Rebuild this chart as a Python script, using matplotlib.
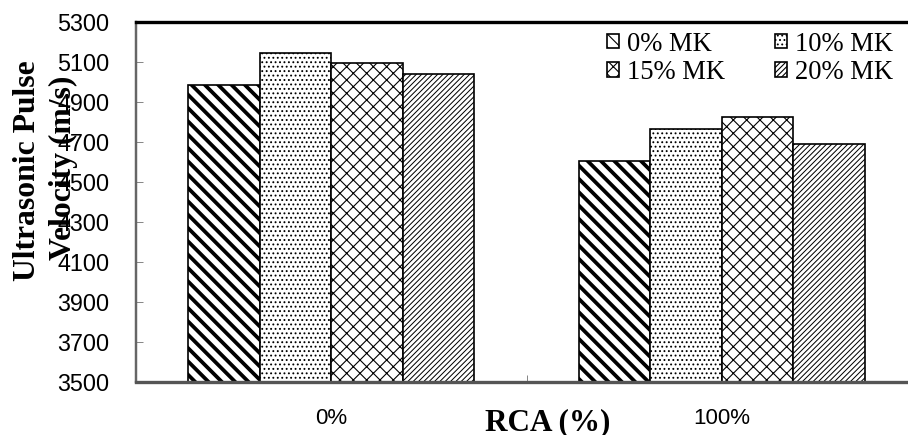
import matplotlib
matplotlib.use('Agg')
import matplotlib.pyplot as plt
import numpy as np

# Дані
rca = ['0%', '100%']
mk_labels = ['0% MK', '10% MK', '15% MK', '20% MK']
upv_0mk = [4983, 4603]
upv_10mk = [5145, 4765]
upv_15mk = [5093, 4825]
upv_20mk = [5042, 4690]
yticks = [3500, 3700, 3900, 4100, 4300, 4500, 4700, 4900, 5100, 5300]

series = [upv_0mk, upv_10mk, upv_15mk, upv_20mk]
hatches = ['\\\\', '...', 'xx', '/////']
hatch_lw = [3.4, 1.0, 1.0, 0.9]

DPI = 80
fig = plt.figure(figsize=(908 / DPI, 435 / DPI), dpi=DPI)
ax = fig.add_axes([136 / 908, 53 / 435, 781 / 908, 360 / 435])

x = np.arange(len(rca))
w = 0.183
handles = []
for i, vals in enumerate(series):
    bars = ax.bar(x + (i - 1.5) * w, vals, w, color='white', edgecolor='black',
                  linewidth=1.5, hatch=hatches[i], label=mk_labels[i])
    for b in bars:
        if hasattr(b, 'set_hatch_linewidth'):
            b.set_hatch_linewidth(hatch_lw[i])
    handles.append(bars)

ax.set_xlim(-0.5, 1.5)
ax.set_ylim(3500, 5300)
ax.set_yticks(yticks)
ax.set_yticklabels([str(v) for v in yticks], fontfamily='Liberation Sans', fontsize=21)
ax.set_xticks(x)
ax.set_xticklabels(rca, fontfamily='Liberation Sans', fontsize=20)
ax.set_xticks([0.5], minor=True)
ax.tick_params(axis='y', direction='in', length=6.5, width=0.9, color='#888888', pad=24)
ax.tick_params(axis='x', which='major', length=0, pad=23)
ax.tick_params(axis='x', which='minor', direction='in', length=6, width=0.9, color='#888888')

# Рамка
ax.spines['top'].set_linewidth(3)
ax.spines['top'].set_color('black')
ax.spines['left'].set_linewidth(2.2)
ax.spines['left'].set_color('#666666')
ax.spines['bottom'].set_linewidth(3)
ax.spines['bottom'].set_color('#555555')
ax.spines['right'].set_visible(False)

# Підписи осей
fig.text(35 / 908, 1 - 171 / 435, 'Ultrasonic Pulse', rotation=90, rotation_mode='anchor',
         ha='center', va='baseline', fontfamily='Liberation Serif', fontweight='bold', fontsize=28.5)
fig.text(71 / 908, 1 - 168 / 435, 'Velocity (m/s)', rotation=90, rotation_mode='anchor',
         ha='center', va='baseline', fontfamily='Liberation Serif', fontweight='bold', fontsize=28.5)
fig.text(548 / 908, 1 - 430 / 435, 'RCA (%)', ha='center', va='baseline',
         fontfamily='Liberation Serif', fontweight='bold', fontsize=28)

# Легенда: порядок по рядках, як в оригіналі
order = [0, 2, 1, 3]
ax.legend([handles[k] for k in order], [mk_labels[k] for k in order],
          loc='upper left', bbox_to_anchor=(604 / 908, 1 - 29 / 435), bbox_transform=fig.transFigure,
          ncol=2, frameon=False, prop={'family': 'Liberation Serif', 'size': 24},
          handlelength=0.45, handleheight=0.45, handletextpad=0.3, columnspacing=1.9,
          labelspacing=0.12, borderpad=0.1, borderaxespad=0)

fig.savefig('out.png', dpi=DPI)
